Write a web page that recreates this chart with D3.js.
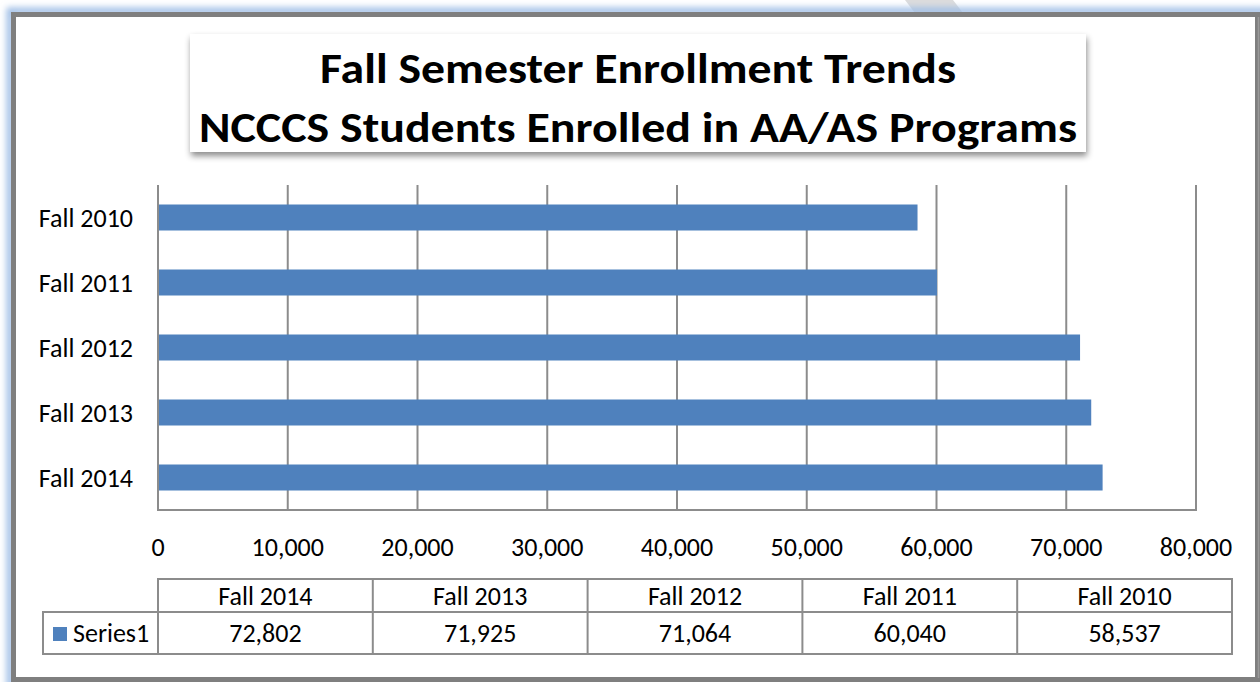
<!DOCTYPE html>
<html>
<head>
<meta charset="utf-8">
<script src="https://cdn.jsdelivr.net/npm/d3@7"></script>
<style>
  body { margin: 0; background: #fff; }
  svg { display: block; font-family: Carlito, Calibri, Lato, sans-serif; }
</style>
</head>
<body>
<svg id="chart" width="1260" height="682"></svg>
<script>
// data, in table order
const categories = ["Fall 2014", "Fall 2013", "Fall 2012", "Fall 2011", "Fall 2010"];
const values = [72802, 71925, 71064, 60040, 58537];
const xTicks = [0, 10000, 20000, 30000, 40000, 50000, 60000, 70000, 80000];
const seriesName = "Series1";
const titleLines = ["Fall Semester Enrollment Trends", "NCCCS Students Enrolled in AA/AS Programs"];
const titleWidths = [636, 878];

const data = categories.map((c, i) => ({cat: c, val: values[i]}));

const svg = d3.select("#chart");
const plot = {left: 158, right: 1196, top: 185, bottom: 510};
const barColor = "#4f81bd";
const gridColor = "#8c8c8c";
const fs = "26px";

const defs = svg.append("defs");
defs.append("filter").attr("id", "glow")
    .attr("x", "-5%").attr("y", "-5%").attr("width", "110%").attr("height", "110%")
    .append("feGaussianBlur").attr("stdDeviation", 3);
const sh = defs.append("filter").attr("id", "shadow")
    .attr("x", "-5%").attr("y", "-20%").attr("width", "110%").attr("height", "150%");
sh.append("feDropShadow").attr("dx", 1).attr("dy", 4).attr("stdDeviation", 3)
    .attr("flood-color", "#000").attr("flood-opacity", 0.45);

// background bits outside the frame
svg.append("polygon")
    .attr("points", "905,0 953,0 963,13 915,13")
    .attr("fill", "#dcdcdc");

// outer frame with a blue glow
svg.append("rect")
    .attr("x", 10).attr("y", 11).attr("width", 1260).attr("height", 680)
    .attr("fill", "none").attr("stroke", "#9ebde6").attr("stroke-width", 7)
    .attr("filter", "url(#glow)");
svg.append("rect")
    .attr("x", 13.5).attr("y", 14.5).attr("width", 1244).attr("height", 665)
    .attr("fill", "#fff").attr("stroke", "#7f7f7f").attr("stroke-width", 5);
svg.append("line")
    .attr("x1", 1258.5).attr("x2", 1258.5).attr("y1", 17).attr("y2", 678)
    .attr("stroke", "#9a9a9a").attr("stroke-width", 1.5);

// title box
svg.append("rect")
    .attr("x", 190).attr("y", 34).attr("width", 896).attr("height", 118)
    .attr("fill", "#fff").attr("filter", "url(#shadow)");
svg.selectAll(".title")
    .data(titleLines)
    .enter()
    .append("text")
    .attr("class", "title")
    .attr("x", 638)
    .attr("y", (d, i) => 83 + i * 59)
    .attr("text-anchor", "middle")
    .attr("font-size", "42px")
    .attr("font-weight", "bold")
    .attr("textLength", (d, i) => titleWidths[i])
    .attr("lengthAdjust", "spacingAndGlyphs")
    .attr("fill", "#000")
    .text(d => d);

// scales
const x = d3.scaleLinear().domain([0, 80000]).range([plot.left, plot.right]);
const y = d3.scaleBand()
    .domain(categories.slice().reverse())
    .range([plot.top, plot.bottom])
    .paddingInner(0.6).paddingOuter(0.3);

// gridlines
svg.append("g")
    .selectAll("line")
    .data(xTicks)
    .enter()
    .append("line")
    .attr("x1", d => x(d)).attr("x2", d => x(d))
    .attr("y1", plot.top).attr("y2", plot.bottom)
    .attr("stroke", gridColor).attr("stroke-width", 2);
svg.append("line")
    .attr("x1", plot.left - 1).attr("x2", plot.right + 1)
    .attr("y1", plot.bottom).attr("y2", plot.bottom)
    .attr("stroke", gridColor).attr("stroke-width", 2);

// bars
svg.append("g")
    .selectAll("rect")
    .data(data)
    .enter()
    .append("rect")
    .attr("x", x(0) + 1)
    .attr("y", d => y(d.cat))
    .attr("width", d => x(d.val) - x(0) - 1)
    .attr("height", y.bandwidth())
    .attr("fill", barColor);

// x tick labels
const fmt = d3.format(",");
svg.append("g")
    .selectAll("text")
    .data(xTicks)
    .enter()
    .append("text")
    .attr("x", d => x(d))
    .attr("y", 556)
    .attr("text-anchor", "middle")
    .attr("font-size", fs)
    .attr("fill", "#000")
    .text(d => fmt(d));

// y category labels
svg.append("g")
    .selectAll("text")
    .data(y.domain())
    .enter()
    .append("text")
    .attr("x", 133)
    .attr("y", d => y(d) + y.bandwidth() / 2)
    .attr("dy", "0.35em")
    .attr("text-anchor", "end")
    .attr("font-size", fs)
    .attr("fill", "#000")
    .text(d => d);

// data table
const tbl = {left: 158, right: 1232, top: 579, mid: 612, bottom: 654, legLeft: 43};
const colW = (tbl.right - tbl.left) / categories.length;
const tg = svg.append("g").attr("stroke", gridColor).attr("stroke-width", 2).attr("fill", "none");
tg.append("rect")
    .attr("x", tbl.left).attr("y", tbl.top)
    .attr("width", tbl.right - tbl.left).attr("height", tbl.bottom - tbl.top);
tg.append("rect")
    .attr("x", tbl.legLeft).attr("y", tbl.mid)
    .attr("width", tbl.left - tbl.legLeft).attr("height", tbl.bottom - tbl.mid);
tg.append("line")
    .attr("x1", tbl.left).attr("x2", tbl.right)
    .attr("y1", tbl.mid).attr("y2", tbl.mid);
tg.selectAll(".col")
    .data(d3.range(1, categories.length))
    .enter()
    .append("line")
    .attr("class", "col")
    .attr("x1", i => tbl.left + i * colW).attr("x2", i => tbl.left + i * colW)
    .attr("y1", tbl.top).attr("y2", tbl.bottom);

svg.append("g")
    .selectAll("text")
    .data(data)
    .enter()
    .append("text")
    .attr("x", (d, i) => tbl.left + (i + 0.5) * colW)
    .attr("y", (tbl.top + tbl.mid) / 2)
    .attr("dy", "0.36em")
    .attr("text-anchor", "middle")
    .attr("font-size", fs)
    .text(d => d.cat);

svg.append("g")
    .selectAll("text")
    .data(data)
    .enter()
    .append("text")
    .attr("x", (d, i) => tbl.left + (i + 0.5) * colW)
    .attr("y", (tbl.mid + tbl.bottom) / 2)
    .attr("dy", "0.36em")
    .attr("text-anchor", "middle")
    .attr("font-size", fs)
    .text(d => fmt(d.val));

// legend key
svg.append("rect")
    .attr("x", 53).attr("y", 627).attr("width", 14).attr("height", 14)
    .attr("fill", barColor);
svg.append("text")
    .attr("x", 73).attr("y", (tbl.mid + tbl.bottom) / 2)
    .attr("dy", "0.36em")
    .attr("font-size", fs)
    .text(seriesName);
</script>
</body>
</html>
